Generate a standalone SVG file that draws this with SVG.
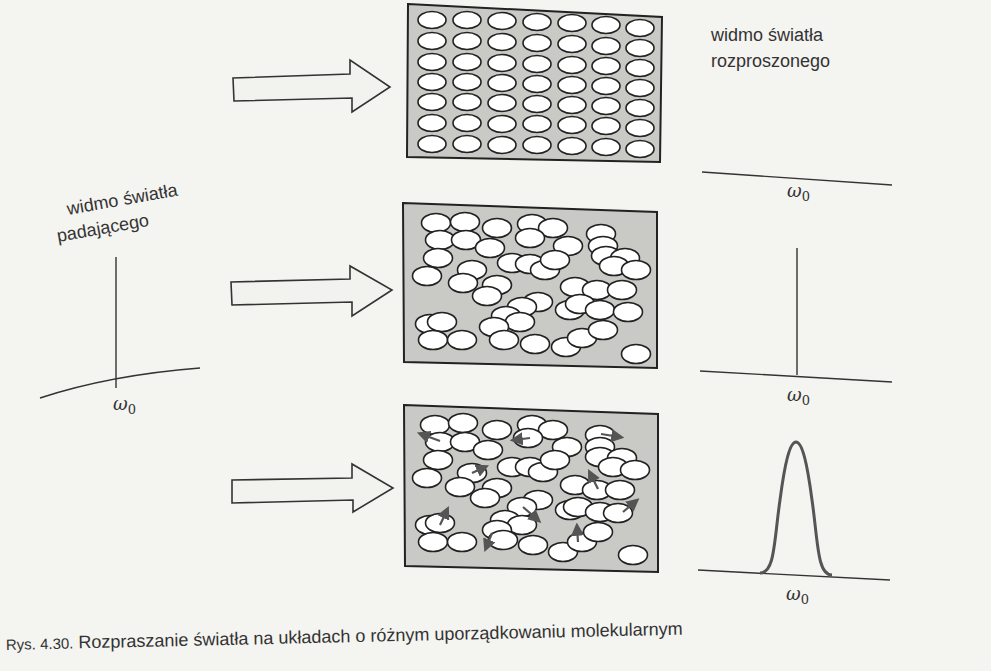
<svg xmlns="http://www.w3.org/2000/svg" width="991" height="671" viewBox="0 0 991 671">
<style>
.box{fill:#c9c9c6;stroke:#222;stroke-width:2}
.m{fill:#fff;stroke:#222;stroke-width:1.6}
.ar{fill:#f2f2ee;stroke:#333;stroke-width:1.6}
.ln{fill:none;stroke:#333;stroke-width:1.4}
.t{font-family:"Liberation Sans",Arial,sans-serif;font-size:18px;fill:#333}
.w{font-family:"DejaVu Serif",serif;font-style:italic;font-size:18px;fill:#333}
.v{stroke:#555;stroke-width:2.2;marker-end:url(#h)}
</style>
<defs>
<marker id="h" markerWidth="6" markerHeight="6" refX="4" refY="3" orient="auto" markerUnits="strokeWidth"><path d="M0,0 L6,3 L0,6 z" fill="#555"/></marker>
<ellipse id="e" class="m" rx="14" ry="8.5"/>
<ellipse id="c" class="m" rx="14.5" ry="9.5"/>
</defs>
<rect width="991" height="671" fill="#f4f4f1"/>
<g id="box-ordered">
<polygon class="box" points="408,4 662,17 660,162 407,157"/>
<use href="#e" x="432" y="20"/><use href="#e" x="467" y="20"/><use href="#e" x="502" y="21"/><use href="#e" x="537" y="22"/><use href="#e" x="572" y="23"/><use href="#e" x="606" y="25"/><use href="#e" x="640" y="28"/>
<use href="#e" x="432" y="41"/><use href="#e" x="467" y="41"/><use href="#e" x="502" y="42"/><use href="#e" x="537" y="43"/><use href="#e" x="572" y="44"/><use href="#e" x="606" y="46"/><use href="#e" x="640" y="48"/>
<use href="#e" x="432" y="62"/><use href="#e" x="467" y="62"/><use href="#e" x="502" y="63"/><use href="#e" x="537" y="64"/><use href="#e" x="572" y="65"/><use href="#e" x="606" y="66"/><use href="#e" x="640" y="68"/>
<use href="#e" x="432" y="82"/><use href="#e" x="467" y="82"/><use href="#e" x="502" y="83"/><use href="#e" x="537" y="84"/><use href="#e" x="572" y="85"/><use href="#e" x="606" y="86"/><use href="#e" x="640" y="88"/>
<use href="#e" x="432" y="102"/><use href="#e" x="467" y="102"/><use href="#e" x="502" y="103"/><use href="#e" x="537" y="104"/><use href="#e" x="572" y="105"/><use href="#e" x="606" y="106"/><use href="#e" x="640" y="108"/>
<use href="#e" x="432" y="123"/><use href="#e" x="467" y="123"/><use href="#e" x="502" y="124"/><use href="#e" x="537" y="124"/><use href="#e" x="572" y="125"/><use href="#e" x="606" y="126"/><use href="#e" x="640" y="128"/>
<use href="#e" x="432" y="144"/><use href="#e" x="467" y="144"/><use href="#e" x="502" y="145"/><use href="#e" x="537" y="145"/><use href="#e" x="572" y="146"/><use href="#e" x="606" y="147"/><use href="#e" x="640" y="149"/>
</g>
<g id="box-disordered">
<polygon class="box" points="403,203 657,212 657,368 404,362"/>
<use href="#c" x="436" y="223"/><use href="#c" x="465" y="222"/><use href="#c" x="497" y="228"/><use href="#c" x="532" y="224"/><use href="#c" x="553" y="228"/><use href="#c" x="601" y="234"/>
<use href="#c" x="440" y="240"/><use href="#c" x="466" y="240"/><use href="#c" x="490" y="248"/><use href="#c" x="530" y="238"/><use href="#c" x="568" y="246"/><use href="#c" x="603" y="246"/>
<use href="#c" x="606" y="256"/><use href="#c" x="625" y="258"/><use href="#c" x="614" y="266"/><use href="#c" x="636" y="270"/>
<use href="#c" x="438" y="258"/><use href="#c" x="472" y="270"/><use href="#c" x="512" y="263"/><use href="#c" x="530" y="264"/><use href="#c" x="545" y="270"/><use href="#c" x="555" y="260"/>
<use href="#c" x="427" y="276"/><use href="#c" x="463" y="283"/><use href="#c" x="497" y="285"/><use href="#c" x="487" y="296"/><use href="#c" x="575" y="287"/><use href="#c" x="597" y="290"/><use href="#c" x="622" y="290"/>
<use href="#c" x="538" y="302"/><use href="#c" x="522" y="307"/><use href="#c" x="506" y="316"/><use href="#c" x="520" y="322"/><use href="#c" x="494" y="327"/>
<use href="#c" x="570" y="310"/><use href="#c" x="580" y="304"/><use href="#c" x="600" y="310"/><use href="#c" x="628" y="312"/>
<use href="#c" x="430" y="324"/><use href="#c" x="442" y="322"/><use href="#c" x="433" y="340"/><use href="#c" x="462" y="340"/><use href="#c" x="504" y="340"/><use href="#c" x="535" y="344"/><use href="#c" x="566" y="347"/><use href="#c" x="582" y="338"/><use href="#c" x="603" y="330"/><use href="#c" x="636" y="354"/>
</g>
<g id="box-moving">
<polygon class="box" points="404,405 658,414 658,572 405,566"/>
<use href="#c" x="435" y="425"/><use href="#c" x="463" y="423"/><use href="#c" x="497" y="430"/><use href="#c" x="532" y="425"/><use href="#c" x="553" y="430"/><use href="#c" x="600" y="435"/>
<use href="#c" x="440" y="442"/><use href="#c" x="465" y="442"/><use href="#c" x="488" y="450"/><use href="#c" x="528" y="438"/><use href="#c" x="567" y="447"/><use href="#c" x="600" y="447"/>
<use href="#c" x="600" y="457"/><use href="#c" x="622" y="458"/><use href="#c" x="613" y="467"/><use href="#c" x="635" y="470"/>
<use href="#c" x="438" y="460"/><use href="#c" x="472" y="473"/><use href="#c" x="512" y="467"/><use href="#c" x="530" y="467"/><use href="#c" x="543" y="472"/><use href="#c" x="555" y="460"/>
<use href="#c" x="427" y="478"/><use href="#c" x="460" y="487"/><use href="#c" x="497" y="488"/><use href="#c" x="485" y="498"/><use href="#c" x="575" y="485"/><use href="#c" x="597" y="490"/><use href="#c" x="620" y="490"/>
<use href="#c" x="538" y="500"/><use href="#c" x="522" y="507"/><use href="#c" x="505" y="520"/><use href="#c" x="522" y="525"/><use href="#c" x="497" y="530"/>
<use href="#c" x="570" y="510"/><use href="#c" x="578" y="507"/><use href="#c" x="600" y="512"/><use href="#c" x="618" y="513"/>
<use href="#c" x="430" y="525"/><use href="#c" x="440" y="523"/><use href="#c" x="433" y="542"/><use href="#c" x="462" y="542"/><use href="#c" x="503" y="540"/><use href="#c" x="533" y="545"/><use href="#c" x="563" y="552"/><use href="#c" x="582" y="542"/><use href="#c" x="598" y="532"/><use href="#c" x="633" y="555"/>
<line class="v" x1="440" y1="441" x2="421" y2="434"/>
<line class="v" x1="530" y1="438" x2="514" y2="440"/>
<line class="v" x1="601" y1="434" x2="620" y2="437"/>
<line class="v" x1="472" y1="473" x2="485" y2="467"/>
<line class="v" x1="598" y1="489" x2="590" y2="473"/>
<line class="v" x1="623" y1="512" x2="636" y2="501"/>
<line class="v" x1="440" y1="525" x2="447" y2="510"/>
<line class="v" x1="523" y1="507" x2="538" y2="520"/>
<line class="v" x1="492" y1="533" x2="486" y2="548"/>
<line class="v" x1="578" y1="542" x2="577" y2="527"/>
</g>
<g id="connectors">
<path class="ar" d="M233,78 L350,74 L350,60 L390,87 L352,112 L352,98 L234,101 Z"/>
<path class="ar" d="M231,282 L350,279 L350,266 L392,290 L352,316 L352,302 L232,305 Z"/>
<path class="ar" d="M232,480 L352,478 L352,464 L393,488 L353,512 L353,500 L232,503 Z"/>
</g>
<g id="spectrum-in">
<text class="t" transform="translate(68,215) rotate(-10)">widmo światła</text>
<text class="t" transform="translate(58,242) rotate(-10)">padającego</text>
<line class="ln" x1="116" y1="257" x2="116" y2="388" stroke-width="2"/>
<path class="ln" d="M40,398 Q110,375 200,368"/>
<text class="w" x="113" y="410">ω<tspan font-size="13" dy="4" font-style="normal">0</tspan></text>
</g>
<g id="spectrum-out">
<text class="t" x="711" y="41">widmo światła</text>
<text class="t" x="711" y="67">rozproszonego</text>
<path class="ln" d="M702,172 L892,185"/>
<text class="w" x="787" y="197">ω<tspan font-size="13" dy="4" font-style="normal">0</tspan></text>
<path class="ln" d="M700,371 L892,382"/>
<line class="ln" x1="797" y1="248" x2="797" y2="375" stroke-width="2"/>
<text class="w" x="787" y="401">ω<tspan font-size="13" dy="4" font-style="normal">0</tspan></text>
<path class="ln" d="M698,570 L890,580"/>
<path fill="none" stroke="#555" stroke-width="3" d="M760,573 C775,573 774,541 780,500 C785,462 790,442 796,442 C802,442 807,462 812,500 C818,541 817,575 832,575"/>
<text class="w" x="786" y="600">ω<tspan font-size="13" dy="4" font-style="normal">0</tspan></text>
</g>
<text class="t" font-size="19" transform="translate(6,650) rotate(-1.3)"><tspan font-size="15">Rys. 4.30.</tspan> Rozpraszanie światła na układach o różnym uporządkowaniu molekularnym</text>
</svg>
